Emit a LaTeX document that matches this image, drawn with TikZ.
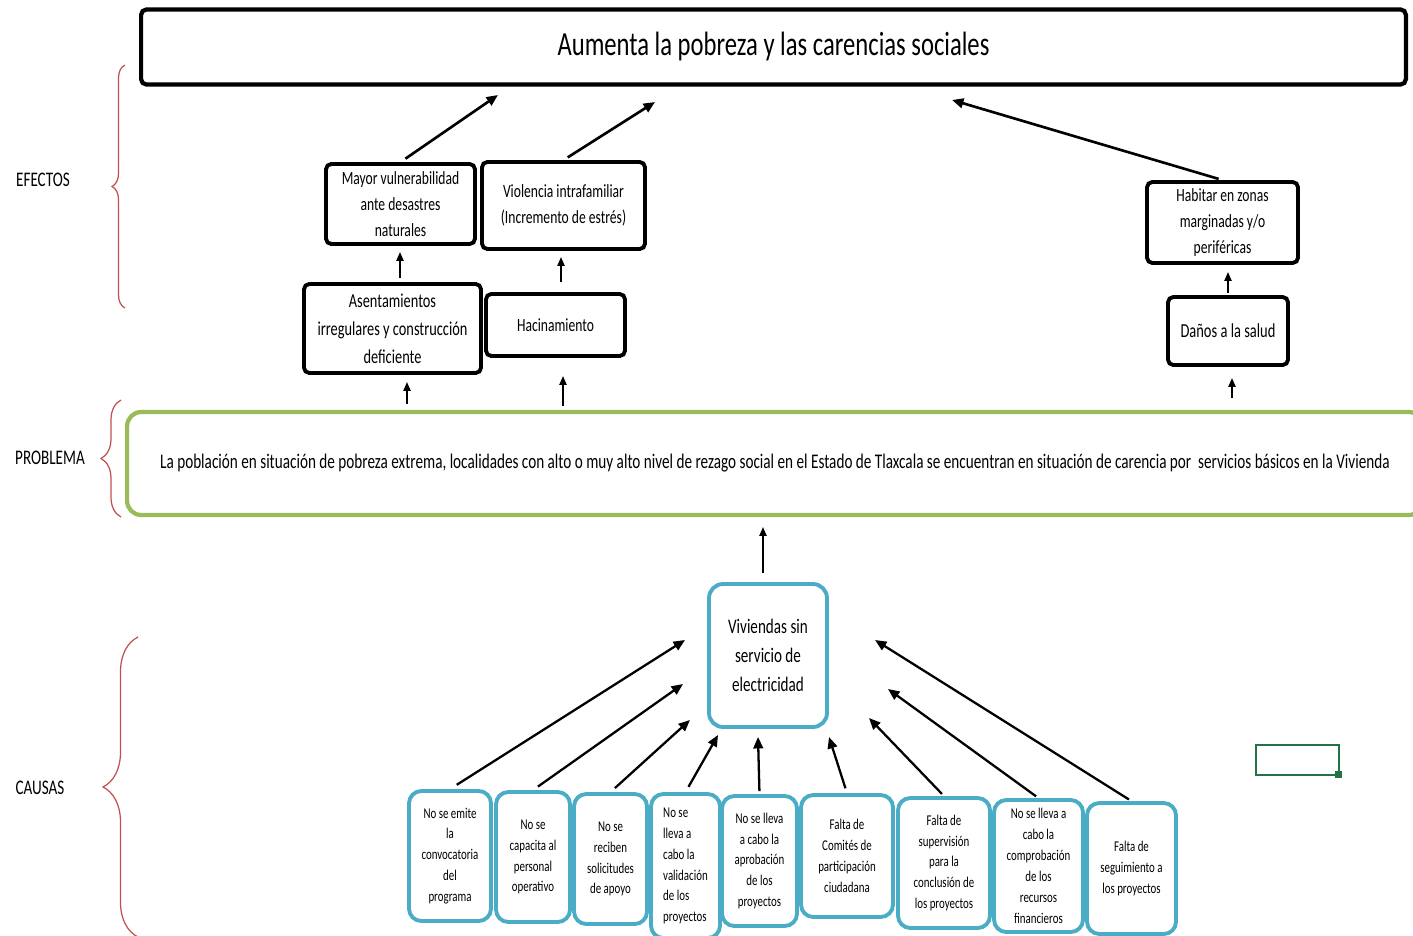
\documentclass[tikz,border=0pt]{standalone}
\usepackage{fontspec}
\setmainfont[FakeStretch=0.73]{Carlito}
\usepackage{xcolor}
\usetikzlibrary{arrows.meta,decorations.pathreplacing}
\definecolor{rojo}{HTML}{C0504D}
\definecolor{verde}{HTML}{9BBB59}
\definecolor{azulc}{HTML}{4BACC6}
\definecolor{excel}{HTML}{217346}

\begin{document}
\begin{tikzpicture}[x=0.02cm, y=-0.02cm,
  efecto/.style={draw, line width=2.2pt, rounded corners=3pt, align=center, inner sep=1pt, font=\fontsize{10.6}{14.7}\selectfont},
  causa/.style={draw=azulc, line width=2.2pt, rounded corners=7pt, align=center, inner sep=1pt, font=\fontsize{8.5}{11.9}\selectfont},
  flecha/.style={-{Triangle[length=6.5pt,width=5.5pt]}, line width=1.5pt},
  flechita/.style={-{Triangle[length=5pt,width=4pt]}, line width=1pt},
  llave/.style={draw=rojo, line width=0.7pt, decorate},
  etiqueta/.style={font=\fontsize{11.8}{14}\selectfont}]
  \useasboundingbox (0,0) rectangle (1413,936);
  \clip (0,0) rectangle (1413,936);

  % efectos
  \node[efecto, line width=2.4pt, minimum width=25.3cm, minimum height=1.5cm, font=\fontsize{19.2}{23}\selectfont] (titulo) at (773.5,47) {Aumenta la pobreza y las carencias sociales};
  \node[efecto, minimum width=2.98cm, minimum height=1.6cm] (mayor) at (400.5,204) {Mayor vulnerabilidad\\ante desastres\\naturales};
  \node[efecto, minimum width=3.26cm, minimum height=1.74cm] (violencia) at (563.5,205.5) {Violencia intrafamiliar\\(Incremento de estrés)};
  \node[efecto, minimum width=3.54cm, minimum height=1.78cm, font=\fontsize{11.2}{16}\selectfont] (asent) at (392.5,328.5) {Asentamientos\\irregulares y construcción\\deficiente};
  \node[efecto, minimum width=2.78cm, minimum height=1.24cm] (hacin) at (555.5,325) {Hacinamiento};
  \node[efecto, minimum width=3.02cm, minimum height=1.62cm] (habitar) at (1222.5,222.5) {Habitar en zonas\\marginadas y/o\\periféricas};
  \node[efecto, minimum width=2.4cm, minimum height=1.36cm, font=\fontsize{11.3}{14}\selectfont] (danos) at (1228,331) {Daños a la salud};

  % problema
  \node[draw=verde, line width=2.4pt, rounded corners=8pt, minimum width=25.92cm, minimum height=2.06cm, font=\fontsize{11.85}{14}\selectfont] (problema) at (775,463.5) {La población en situación de pobreza extrema, localidades con alto o muy alto nivel de rezago social en el Estado de Tlaxcala se encuentran en situación de carencia por \ servicios básicos en la Vivienda};

  % causas
  \node[causa, minimum width=2.36cm, minimum height=2.86cm, rounded corners=8pt, font=\fontsize{11.8}{16.4}\selectfont] (viv) at (768,655.5) {Viviendas sin\\servicio de\\electricidad};
  \node[causa, minimum width=1.64cm, minimum height=2.6cm] (c1) at (450,856) {No se emite\\la\\convocatoria\\del\\programa};
  \node[causa, minimum width=1.48cm, minimum height=2.6cm] (c2) at (533,857) {No se\\capacita al\\personal\\operativo};
  \node[causa, minimum width=1.46cm, minimum height=2.6cm] (c3) at (610.5,859) {No se\\reciben\\solicitudes\\de apoyo};
  \node[causa, align=left, minimum width=1.38cm, minimum height=2.88cm] (c4) at (685.5,866) {No se\\lleva a\\cabo la\\validación\\de los\\proyectos};
  \node[causa, minimum width=1.5cm, minimum height=2.6cm] (c5) at (759.5,861) {No se lleva\\a cabo la\\aprobación\\de los\\proyectos};
  \node[causa, minimum width=1.84cm, minimum height=2.44cm] (c6) at (847,856) {Falta de\\Comités de\\participación\\ciudadana};
  \node[causa, minimum width=1.84cm, minimum height=2.6cm] (c7) at (944,863) {Falta de\\supervisión\\para la\\conclusión de\\los proyectos};
  \node[causa, minimum width=1.78cm, minimum height=2.64cm] (c8) at (1038.5,866) {No se lleva a\\cabo la\\comprobación\\de los\\recursos\\financieros};
  \node[causa, minimum width=1.78cm, minimum height=2.62cm] (c9) at (1131.5,868.5) {Falta de\\seguimiento a\\los proyectos};

  % puntas libres de las flechas
  \coordinate (t1) at (498,95);
  \coordinate (t2) at (655,102);
  \coordinate (t3) at (952,100);
  \coordinate (a1) at (400,252);
  \coordinate (a2) at (561,257);
  \coordinate (a3) at (1228,272);
  \coordinate (a4) at (407,382);
  \coordinate (a5) at (563,376);
  \coordinate (a6) at (1232,378);
  \coordinate (kp) at (763,527);
  \coordinate (k1) at (685,640);
  \coordinate (k2) at (683,684);
  \coordinate (k3) at (690,720);
  \coordinate (k4) at (718,735);
  \coordinate (k5) at (758,737);
  \coordinate (k6) at (829,737);
  \coordinate (k7) at (869,718);
  \coordinate (k8) at (888,689);
  \coordinate (k9) at (875,640);

  \draw[flecha, shorten <=0.12cm] (mayor.north) -- (t1);
  \draw[flecha, shorten <=0.1cm] (violencia.north) -- (t2);
  \draw[flecha, shorten <=0.08cm] (habitar.north) -- (t3);
  \draw[flechita, shorten <=0.08cm] (a1 |- asent.north) -- (a1);
  \draw[flechita, shorten <=0.2cm] (a2 |- hacin.north) -- (a2);
  \draw[flechita, shorten <=0.04cm] (a3 |- danos.north) -- (a3);
  \draw[flechita, shorten <=0.12cm] (a4 |- problema.north) -- (a4);
  \draw[flechita, shorten <=0.08cm] (a5 |- problema.north) -- (a5);
  \draw[flechita, shorten <=0.24cm] (a6 |- problema.north) -- (a6);
  \draw[flechita, shorten <=0.18cm] (kp |- viv.north) -- (kp);
  \foreach \c/\k/\s in {c1/k1/0.16,c2/k2/0.12,c3/k3/0.12,c4/k4/0.12,c5/k5/0.06,c6/k6/0.1,c7/k7/0.06,c8/k8/0.06,c9/k9/0.06}
    \draw[flecha, line width=1.3pt, shorten <=\s cm] (\c.north) -- (\k);

  % llaves y etiquetas
  \draw[llave, decoration={brace, amplitude=0.26cm}] (125,308) -- (125,65);
  \draw[llave, decoration={brace, amplitude=0.4cm}] (121,517) -- (121,400);
  \draw[llave, decoration={brace, amplitude=0.7cm}] (138,937) -- (138,637);
  \node[etiqueta] (efectos) at (43,180) {EFECTOS};
  \node[etiqueta] (lblproblema) at (50,458) {PROBLEMA};
  \node[etiqueta] (causas) at (40,788) {CAUSAS};

  % celda seleccionada
  \draw[excel, line width=1.3pt] (1256,745) rectangle (1339,775);
  \fill[excel] (1335,771) rectangle (1342,778);
\end{tikzpicture}
\end{document}
